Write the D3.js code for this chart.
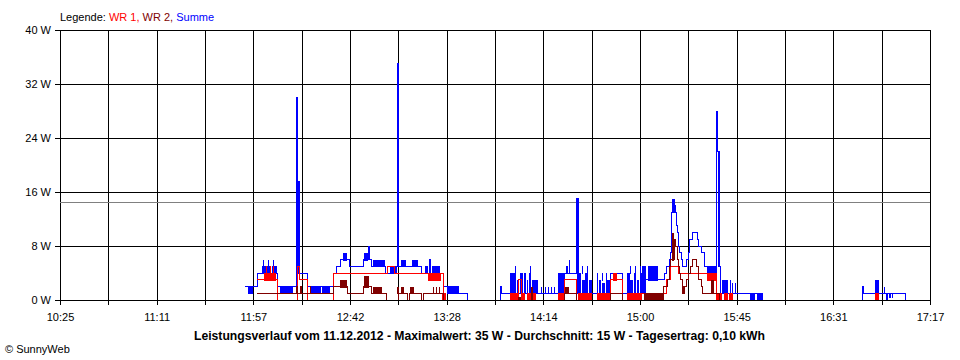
<!DOCTYPE html>
<html><head><meta charset="utf-8">
<script src="https://cdn.jsdelivr.net/npm/d3@7"></script>
<style>
html,body{margin:0;padding:0;background:#fff;}
text{font-family:"Liberation Sans",Arial,sans-serif;}
</style></head>
<body>
<script>
// time values are minutes of the day (10:25 = 625, 17:17 = 1037)
const timeStart = 625, timeEnd = 1037;
const xTickLabels = ["10:25","11:11","11:57","12:42","13:28","14:14","15:00","15:45","16:31","17:17"];
const yTicks = [0, 8, 16, 24, 32, 40];
const averageW = 14.5;
const titleText = "Leistungsverlauf vom 11.12.2012 - Maximalwert: 35 W - Durchschnitt: 15 W - Tagesertrag: 0,10 kWh";

// Summe (blue): step values [time, W]
const sumSteps = [
 [712.6,2],[718.3,4],[728.2,2],[737.2,30],[737.5,17.5],[738.3,4],[742.0,2],[754.3,4],[756.0,5],[757.6,6],[760.9,6],[762.3,5],
 [768.5,6],[771.0,8],[771.6,6],[772.7,5],[779.0,4],[781.3,5],[784.6,35],[785.3,5],[796.4,4],[800.2,6],[800.6,4],[806.4,2],[813.5,1],[818.2,0],
 [833.4,1],[833.6,2],[834.0,1],[864.0,4],[869.8,15],[870.4,1],[885.5,4],[891.6,1],[901.6,3],[911.5,4],[912.4,5],[913.4,6],[913.9,7],
 [914.5,13],[915.0,14],[916.4,13],[916.9,11],[917.4,10],[917.7,8],[918.6,7],[919.1,6],[919.6,5],[921.9,6],[922.4,7],[922.9,9],[924.3,10],
 [926.7,9],[927.6,8],[928.6,7],[930.4,5],[931.4,4],[936.1,28],[936.5,22],[937.3,5],[937.8,1],[957.9,0],
 [1004.8,2],[1005.3,1],[1025.6,0]
];
// fast oscillation ranges [from, to, low W, high W]
const sumBands = [
 [714.0,716.4,1,2],[720.5,724.8,4,5],[725.5,727.8,4,5],[721.1,721.4,5,6],[723.6,723.9,5,6],[726.0,726.4,5,6],
 [729.2,735.3,1,2],[737.4,738.2,4,17.5],[743.4,748.5,1,2],[749.2,752.9,1,2],[759.0,760.9,6,7],[769.0,771.0,6,7],[773.0,778.9,5,6],
 [781.3,784.4,4,5],[784.6,785.2,5,35],[786.5,789.0,5,6],[791.5,794.5,5,6],[798.0,799.5,4,5],[801.0,805.0,4,5],[808.5,813.5,1,2],
 [838.1,839.3,1,4],[839.7,840.9,1,4],[840.3,840.7,4,5],[841.3,842.3,1,3],[842.7,844.3,1,4],
 [844.6,845.6,1,4],[846.0,846.6,1,3],[847.0,847.6,1,4],[847.8,848.2,1,5],[848.5,851.4,1,3],
 [852.8,853.2,1,2],[854.7,855.1,1,2],[856.1,856.5,1,2],[857.5,857.9,1,2],[858.9,859.3,1,2],
 [860.8,864.0,1,4],[864.4,864.8,4,5],[865.0,865.4,4,5],[865.9,866.3,4,6],[869.8,870.4,1,15],
 [870.6,871.8,1,4],[872.0,872.4,4,5],[872.2,873.4,1,3],[873.8,875.0,1,4],[874.5,874.9,4,5],[875.4,876.9,1,3],
 [879.3,879.8,1,4],[880.2,881.4,1,3],[881.5,882.0,3,4],[881.8,883.2,1,2.5],[883.5,884.0,3,4],[883.6,885.5,1,3],
 [893.5,894.7,1,4],[895.0,895.4,4,5],[895.1,896.3,1,3],[896.7,898.0,1,4],[897.5,897.9,4,5],[898.4,899.4,1,3],[899.5,899.9,4,5],[899.8,900.6,1,4],
 [900.6,902.4,1,5],[903.3,908.3,3,5],[915.0,916.2,13,15],
 [931.4,936.1,4,5],[936.5,937.3,5,22],[938.5,941.5,1,3],[942.3,942.7,1,3],[943.4,943.8,1,2.5],[944.5,944.9,1,2.5],
 [951.8,954.1,0,1],[955.3,957.4,0,1],
 [1011.0,1012.8,1,3],[1015.0,1015.4,1,2],[1016.2,1017.1,0,1],[1017.5,1018.3,0.5,1],[1018.9,1019.6,0.5,1],[1025.2,1025.6,0,1]
];

// WR 1 (red)
const wr1Steps = [
 [718.3,3],[728.2,0],[737.5,5],[738.3,3],[742.0,0],[754.3,4],[780.3,5],[783.6,4],[806.4,0],
 [841.9,3],[843.5,0],[864.0,3],[869.8,0],[885.5,3],[891.6,0],[900.6,1],[912.4,3],[913.9,5],[917.7,4],[936.1,0]
];
const wr1Bands = [
 [721.5,727.5,3,4],[722.6,723.0,4,5],[724.4,724.8,4,5],[726.1,726.5,4,5],
 [799.3,805.5,3,4],[806.0,807.8,0,1],
 [838.1,842.0,0,1],[844.0,845.2,0,1],[846.1,850.3,0,1],[860.8,864.0,0,1],[870.3,876.9,0,1],[879.3,885.5,0,1],
 [886.9,888.8,3,4],[893.5,900.6,0,1],
 [931.4,936.1,3,4],[936.1,938.5,0,1],[939.5,941.3,0,1],[941.8,943.7,0,1],
 [1011.0,1012.8,0,1]
];

// WR 2 (dark red)
const wr2Steps = [
 [718.3,1],[737.0,2],[737.4,1],[739.1,2],[739.5,1],[743.4,2],[743.8,1],[754.3,2],[761.2,1],[768.5,2],[772.7,1],[779.8,0],
 [785.1,1],[789.5,0],[790.7,1],[796.4,0],[797.2,1],[806.4,0],
 [864.0,1],[869.8,0],[885.5,1],[891.6,0],[910.6,2],[912.9,3],[913.4,5],[914.3,6],[915.8,9],[916.4,8],[917.2,6],[917.7,5],
 [918.3,4],[918.8,3],[919.6,2],[921.9,3],[922.4,4],[923.8,5],[924.3,6],[926.2,5],[927.5,3],[928.6,2],[929.3,1],[937.5,0]
];
const wr2Bands = [
 [757.6,760.9,2,3],[769.0,771.5,2,3.5],[773.0,777.7,1,2],[784.8,785.5,1,2],[786.4,788.0,1,2],[790.7,792.6,1,2],
 [801.6,802.0,1,2],[803.0,803.4,1,2],[804.5,804.9,1,2],
 [841.9,843.3,0,0.5],[848.0,848.8,0,2],[864.1,866.0,1,2],[901.6,910.6,0,1],[914.8,915.8,6,10],[919.6,921.0,1,2],[933.2,934.8,1,3]
];

const series = [
 {name:"Summe", color:"#0000ff", steps:sumSteps, bands:sumBands},
 {name:"WR 1", color:"#ff0000", steps:wr1Steps, bands:wr1Bands},
 {name:"WR 2", color:"#800000", steps:wr2Steps, bands:wr2Bands}
];

const W = 960, H = 360;
const mLeft = 60, mRight = 930, mTop = 30, mBottom = 300;
const x = d3.scaleLinear().domain([timeStart, timeEnd]).range([mLeft, mRight]);
const y = d3.scaleLinear().domain([0, 40]).range([mBottom, mTop]);

const svg = d3.select("body").append("svg").attr("width", W).attr("height", H)
  .style("display","block");
svg.append("rect").attr("width", W).attr("height", H).attr("fill", "#fff");

const px = v => Math.round(v) + 0.5;
const nGrid = (xTickLabels.length - 1) * 2;
const gridTimes = d3.range(nGrid + 1).map(i => timeStart + i * (timeEnd - timeStart) / nGrid);

const g = svg.append("g").attr("shape-rendering", "crispEdges");
g.selectAll("line.h").data(yTicks).join("line")
  .attr("x1", mLeft - 5).attr("x2", mRight)
  .attr("y1", d => px(y(d))).attr("y2", d => px(y(d)))
  .attr("stroke", "#000").attr("stroke-width", 1);
g.selectAll("line.v").data(gridTimes).join("line")
  .attr("x1", d => px(x(d))).attr("x2", d => px(x(d)))
  .attr("y1", mTop).attr("y2", mBottom + 5)
  .attr("stroke", "#000").attr("stroke-width", 1);
g.append("line").attr("x1", mLeft).attr("x2", mRight)
  .attr("y1", px(y(averageW))).attr("y2", px(y(averageW)))
  .attr("stroke", "#808080").attr("stroke-width", 1);

const line = d3.line().x(d => x(d[0])).y(d => y(d[1])).curve(d3.curveStepAfter);
series.forEach(s => {
  const sg = g.append("g");
  sg.selectAll("rect").data(s.bands).join("rect")
    .attr("x", d => Math.round(x(d[0])))
    .attr("width", d => Math.max(1, Math.round(x(d[1])) - Math.round(x(d[0]))))
    .attr("y", d => Math.round(y(d[3])))
    .attr("height", d => Math.max(1, Math.round(y(d[2])) - Math.round(y(d[3])) + 1))
    .attr("fill", s.color);
  sg.append("path").datum(s.steps).attr("d", line)
    .attr("fill", "none").attr("stroke", s.color).attr("stroke-width", 1);
});
g.append("line").attr("x1", mLeft - 5).attr("x2", mRight)
  .attr("y1", px(y(0))).attr("y2", px(y(0)))
  .attr("stroke", "#000").attr("stroke-width", 1);

svg.selectAll("text.yl").data(yTicks).join("text")
  .attr("x", 51).attr("y", d => y(d) + 4)
  .attr("text-anchor", "end").attr("font-size", 11).attr("fill", "#000")
  .text(d => d + " W");
svg.selectAll("text.xl").data(xTickLabels).join("text")
  .attr("x", (d, i) => x(gridTimes[i * 2]) + 0.5).attr("y", 321)
  .attr("text-anchor", "middle").attr("font-size", 11).attr("fill", "#000")
  .text(d => d);
const leg = svg.append("text").attr("x", 60).attr("y", 21).attr("font-size", 11);
leg.append("tspan").attr("fill", "#000").text("Legende: ");
leg.append("tspan").attr("fill", "#ff0000").text("WR 1, ");
leg.append("tspan").attr("fill", "#800000").text("WR 2, ");
leg.append("tspan").attr("fill", "#0000ff").text("Summe");
svg.append("text").attr("x", 194).attr("y", 340)
  .attr("font-size", 12).attr("font-weight", "bold").attr("fill", "#000")
  .attr("textLength", 571).attr("lengthAdjust", "spacingAndGlyphs")
  .text(titleText);
svg.append("text").attr("x", 5).attr("y", 353).attr("font-size", 11).attr("fill", "#000")
  .text("© SunnyWeb");
</script>
</body></html>
